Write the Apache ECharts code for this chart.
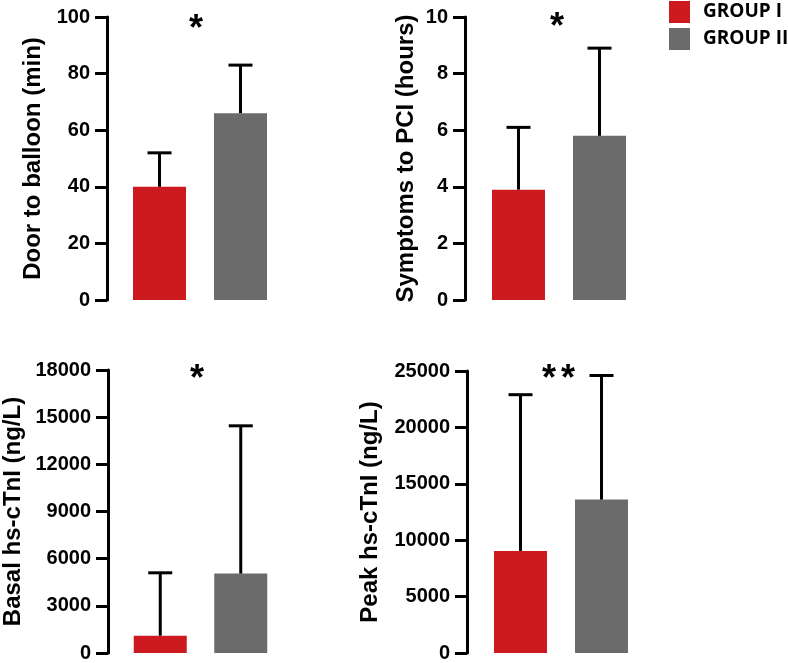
<!DOCTYPE html>
<html>
<head>
<meta charset="utf-8">
<script src="https://cdn.jsdelivr.net/npm/echarts@6/dist/echarts.min.js"></script>
<style>html,body{margin:0;padding:0;background:#fff}#c{width:788px;height:663px}</style>
</head>
<body>
<div id="c"></div>
<script>
var groups = ['GROUP I', 'GROUP II'];
var doorMean = [40, 66];
var doorSD = [12, 17];
var symMean = [3.9, 5.8];
var symSD = [2.2, 3.1];
var basalMean = [1100, 5050];
var basalSD = [4000, 9400];
var peakMean = [9050, 13600];
var peakSD = [13850, 11000];
var axisNames = ['Door to balloon (min)', 'Symptoms to PCI (hours)', 'Basal hs-cTnI (ng/L)', 'Peak hs-cTnI (ng/L)'];
var axisMax = [100, 10, 18000, 25000];
var axisStep = [20, 2, 3000, 5000];
var signif = ['*', '*', '*', '**'];

var RED = '#cc1a1e', GRAY = '#6b6b6b';
var FONT = '"Liberation Sans", Arial, sans-serif';
var panels = [
  {mean: doorMean, sd: doorSD, grid: {left: 119, top: 17, width: 162, height: 283}, offset: 12, nameGap: 62, star: [196, 12]},
  {mean: symMean, sd: symSD, grid: {left: 478, top: 17, width: 162, height: 283}, offset: 13, nameGap: 47, star: [557, 10]},
  {mean: basalMean, sd: basalSD, grid: {left: 119, top: 370, width: 162, height: 283}, offset: 12, nameGap: 83, star: [197, 362]},
  {mean: peakMean, sd: peakSD, grid: {left: 480, top: 371, width: 162, height: 282}, offset: 13, nameGap: 85, star: [549, 362]}
];

var grids = [], xAxes = [], yAxes = [], series = [], graphics = [];
panels.forEach(function (p, i) {
  grids.push(p.grid);
  xAxes.push({type: 'category', gridIndex: i, data: groups, show: false});
  yAxes.push({
    type: 'value', gridIndex: i, min: 0, max: axisMax[i], interval: axisStep[i], offset: p.offset,
    name: axisNames[i], nameLocation: 'middle', nameGap: p.nameGap, nameMoveOverlap: false,
    nameTextStyle: {fontFamily: FONT, fontWeight: 'bold', fontSize: 24, color: '#000'},
    axisLine: {show: true, lineStyle: {color: '#000', width: 3}},
    axisTick: {show: true, length: 12, lineStyle: {color: '#000', width: 3}},
    axisLabel: {margin: 17, fontFamily: FONT, fontWeight: 'bold', fontSize: 20, color: '#000',
      formatter: function (v) { return String(v); }},
    splitLine: {show: false}
  });
  series.push({
    name: groups[0], type: 'bar', xAxisIndex: i, yAxisIndex: i, barWidth: 53, barGap: '-100%',
    itemStyle: {color: RED}, data: [p.mean[0], '-'], z: 2
  });
  series.push({
    name: groups[1], type: 'bar', xAxisIndex: i, yAxisIndex: i, barWidth: 53, barGap: '-100%',
    itemStyle: {color: GRAY}, data: ['-', p.mean[1]], z: 2
  });
  series.push({
    type: 'custom', xAxisIndex: i, yAxisIndex: i, z: 3,
    data: p.mean.map(function (m, k) { return [k, m, p.sd[k]]; }),
    encode: {x: 0, y: 1},
    renderItem: function (params, api) {
      var base = api.coord([api.value(0), api.value(1)]);
      var top = api.coord([api.value(0), api.value(1) + api.value(2)]);
      var st = {stroke: '#000', lineWidth: 3};
      return {type: 'group', children: [
        {type: 'line', shape: {x1: base[0], y1: base[1], x2: top[0], y2: top[1]}, style: st},
        {type: 'line', shape: {x1: top[0] - 12, y1: top[1], x2: top[0] + 12, y2: top[1]}, style: st}
      ]};
    }
  });
  signif[i].split('').forEach(function (ch, k) {
    graphics.push({
      type: 'text', x: p.star[0] + k * 19, y: p.star[1],
      style: {text: ch, fontFamily: FONT, fontSize: 36, fontWeight: 'bold', fill: '#000', align: 'center', verticalAlign: 'top'}
    });
  });
});

var chart = echarts.init(document.getElementById('c'), null, {renderer: 'canvas'});
chart.setOption({
  animation: false,
  backgroundColor: '#fff',
  legend: {
    data: groups, orient: 'vertical', left: 664, top: -4, itemWidth: 21, itemHeight: 22, itemGap: 5,
    icon: 'rect', selectedMode: false,
    textStyle: {fontFamily: '"Open Sans", sans-serif', fontWeight: 'bold', fontSize: 19, color: '#000', padding: [0, 0, 0, 8]}
  },
  grid: grids, xAxis: xAxes, yAxis: yAxes, series: series, graphic: graphics
});
</script>
</body>
</html>
